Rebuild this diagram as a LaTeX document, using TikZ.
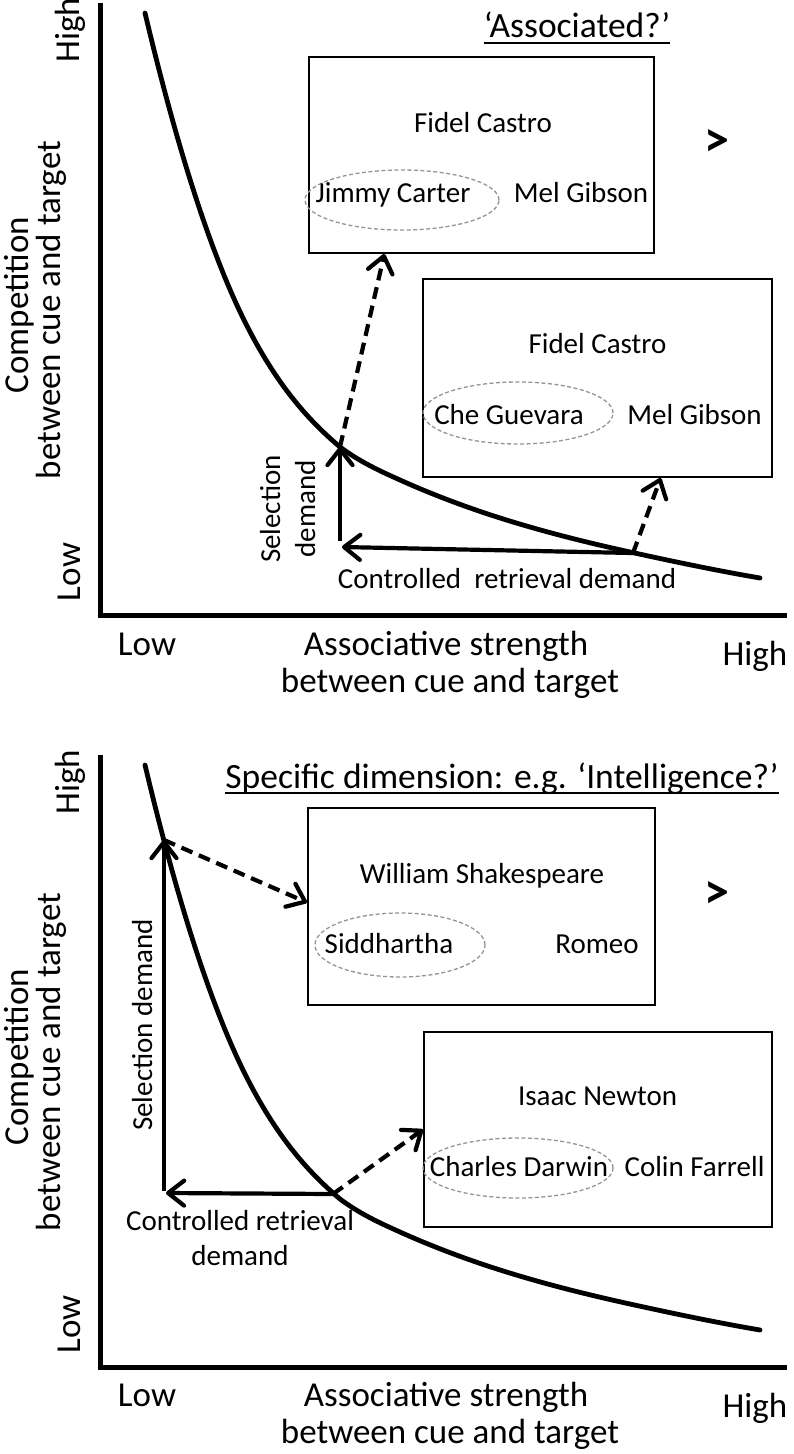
\documentclass[tikz,border=0pt]{standalone}
\usepackage{fontspec}
\setmainfont{Carlito}
\usetikzlibrary{arrows.meta,shapes.geometric,calc}
\begin{document}
\begin{tikzpicture}[x=1pt,y=-1pt,
  axisline/.style={line width=5pt},
  curveline/.style={line width=4.8pt,line cap=round},
  arr/.style={line width=4.2pt,-{Straight Barb[length=16pt,width=25pt,round]}},
  dasharr/.style={arr,dash pattern=on 12pt off 7pt},
  box/.style={draw,line width=2pt,minimum width=345pt,minimum height=196pt,inner sep=0pt},
  oval/.style={draw=black!42,dash pattern=on 4pt off 2.5pt,line width=1.3pt,ellipse,inner sep=0pt},
  boxtxt/.style={font=\fontsize{29}{35}\selectfont,anchor=base,inner sep=0pt},
  lbl/.style={font=\fontsize{35}{42}\selectfont,anchor=base,inner sep=0pt},
  ttl/.style={font=\fontsize{35.5}{42}\selectfont,anchor=base,inner sep=0pt},
  gt/.style={font=\fontsize{50}{56}\bfseries\selectfont,inner sep=0pt},
  uline/.style={line width=1.8pt},
]
\useasboundingbox (0,0) rectangle (794,1454);

% ================= TOP PANEL =================
\coordinate (ya1) at (100,3);
\coordinate (o1) at (100,615);
\coordinate (xa1) at (787,615);
\draw[axisline] (ya1) -- (o1) -- (xa1);

\draw[curveline] (145,13) .. controls (178.3,153) and (211.7,255.3) .. (245,322)
  .. controls (276.7,385.3) and (308.3,420.1) .. (340,447)
  .. controls (360,462) and (380,471) .. (400,480)
  .. controls (476.7,514.5) and (553.3,535.1) .. (630,552)
  .. controls (673.3,561.5) and (716.7,570.6) .. (760,578);

\node[lbl,rotate=90] (hy1) at (79,30) {High};
\node[lbl,rotate=90] (ly1) at (80,572) {Low};
\node[lbl,rotate=90] (cy1a) at (28,305) {Competition};
\node[lbl,rotate=90] (cy1b) at (60,310) {between cue and target};
\node[lbl] (lx1) at (147,655) {Low};
\node[lbl] (as1a) at (446,655) {Associative strength};
\node[lbl] (as1b) at (450,692) {between cue and target};
\node[lbl] (hx1) at (755,665) {High};

\node[ttl] (t1) at (577,37) {‘Associated?’};
\draw[uline] ([yshift=-6pt]t1.base west) -- ([yshift=-6pt]t1.base east);

\node[box] (b1) at (481.5,155) {};
\node[oval,minimum width=194pt,minimum height=60pt] (e1) at (402,200) {};
\node[boxtxt] (fc1) at (483,132) {Fidel Castro};
\node[boxtxt] (jc) at (393,202) {Jimmy Carter};
\node[boxtxt] (mg1) at (581,202) {Mel Gibson};
\node[gt] (gt1) at (717,143) {>};

\node[box,minimum width=349pt,minimum height=198pt] (b2) at (597.5,378) {};
\node[oval,minimum width=190pt,minimum height=62pt] (e2) at (518,413) {};
\node[boxtxt] (fc2) at (597.5,353) {Fidel Castro};
\node[boxtxt] (cg) at (509,424) {Che Guevara};
\node[boxtxt] (mg2) at (694.5,424) {Mel Gibson};

\node[boxtxt,rotate=90] (sd1a) at (280,509) {Selection};
\node[boxtxt,rotate=90] (sd1b) at (315,509) {demand};
\node[boxtxt] (cr1) at (507,588) {Controlled\ \ retrieval demand};

\coordinate (p1) at (340,447);
\coordinate (s1) at (340,541);
\coordinate (q1) at (633,553);
\coordinate (r1) at (342,547);
\draw[arr] (s1) -- (p1);
\draw[arr] (q1) -- (r1);
\draw[dasharr] (p1) -- ($(b1.south west)!0.22!(b1.south east)$);
\draw[dasharr] (q1) -- ($(b2.south west)!0.68!(b2.south east)$);

% ================= BOTTOM PANEL =================
\coordinate (ya2) at (100,755);
\coordinate (o2) at (100,1367);
\coordinate (xa2) at (787,1367);
\draw[axisline] (ya2) -- (o2) -- (xa2);

\draw[curveline] (145,765) .. controls (178.3,905) and (211.7,1007.3) .. (245,1074)
  .. controls (276.7,1137.3) and (308.3,1172.1) .. (340,1199)
  .. controls (360,1214) and (380,1223) .. (400,1232)
  .. controls (476.7,1266.5) and (553.3,1287.1) .. (630,1304)
  .. controls (673.3,1313.5) and (716.7,1322.6) .. (760,1330);

\node[lbl,rotate=90] (hy2) at (79,782) {High};
\node[lbl,rotate=90] (ly2) at (80,1324) {Low};
\node[lbl,rotate=90] (cy2a) at (28,1057) {Competition};
\node[lbl,rotate=90] (cy2b) at (60,1062) {between cue and target};
\node[lbl] (lx2) at (147,1406) {Low};
\node[lbl] (as2a) at (446,1406) {Associative strength};
\node[lbl] (as2b) at (450,1443) {between cue and target};
\node[lbl] (hx2) at (755,1417) {High};

\node[ttl] (t2) at (502,788) {Specific dimension: e.g. ‘Intelligence?’};
\draw[uline] ([yshift=-5pt]t2.base west) -- ([yshift=-5pt]t2.base east);

\node[box,minimum width=347pt,minimum height=197pt] (b3) at (481.5,906.5) {};
\node[oval,minimum width=170pt,minimum height=64pt] (e3) at (400,945) {};
\node[boxtxt] (ws) at (482,883) {William Shakespeare};
\node[boxtxt] (sid) at (389,953) {Siddhartha};
\node[boxtxt] (rom) at (597,953) {Romeo};
\node[gt] (gt2) at (717,895) {>};

\node[box,minimum width=348pt,minimum height=195pt] (b4) at (598,1129.5) {};
\node[oval,minimum width=190pt,minimum height=60pt] (e4) at (518,1168) {};
\node[boxtxt] (in) at (597.5,1105) {Isaac Newton};
\node[boxtxt] (cd) at (519,1176) {Charles Darwin};
\node[boxtxt] (cf) at (694.5,1176) {Colin Farrell};

\node[boxtxt,rotate=90] (sd2) at (152,1025) {Selection demand};
\node[boxtxt] (cr2a) at (240,1230) {Controlled retrieval};
\node[boxtxt] (cr2b) at (240,1265) {demand};

\coordinate (p2) at (164,840);
\coordinate (s2) at (164,1191);
\coordinate (q2) at (333,1194);
\coordinate (r2) at (166,1193);
\draw[arr] (s2) -- (p2);
\draw[arr] (q2) -- (r2);
\draw[dasharr] (p2) -- ($(b3.north west)!0.48!(b3.south west)$);
\draw[dasharr] (q2) -- (b4.west);
\end{tikzpicture}
\end{document}
